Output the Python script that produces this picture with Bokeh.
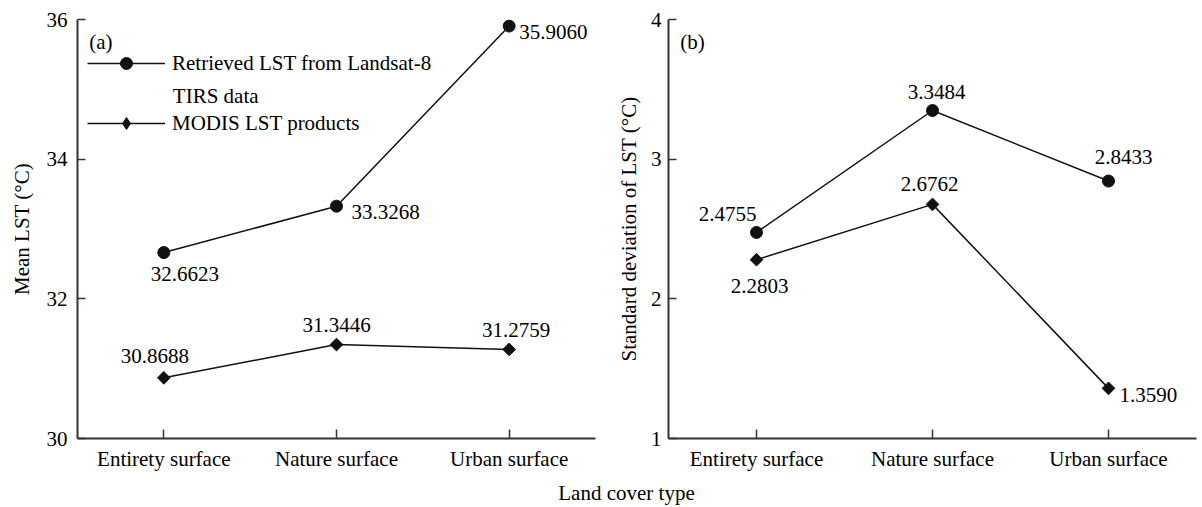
import numpy as np
from bokeh.plotting import figure
from bokeh.layouts import column, row
from bokeh.models import Range1d, FactorRange, FixedTicker, Legend, LegendItem, Label
from bokeh.embed import file_html
from bokeh.resources import INLINE
from bokeh.core.properties import value

# ---------------- data ----------------
categories = ["Entirety surface", "Nature surface", "Urban surface"]
mean_landsat = [32.6623, 33.3268, 35.9060]
mean_modis = [30.8688, 31.3446, 31.2759]
std_landsat = [2.4755, 3.3484, 2.8433]
std_modis = [2.2803, 2.6762, 1.3590]
mean_ticks = [30, 32, 34, 36]
std_ticks = [1, 2, 3, 4]
legend_landsat = "Retrieved LST from Landsat-8"
legend_landsat_2 = "TIRS data"
legend_modis = "MODIS LST products"
x_title = "Land cover type"
y_title_a = "Mean LST (°C)"
y_title_b = "Standard deviation of LST (°C)"

# ---------------- style ----------------
FONT = "Liberation Serif"
FS = "21px"
AXC = "#333333"
LC = "#111111"

# label offsets (dx, dy in screen px, align)
off_a_l = [(21, 21, "center"), (15, 6, "left"), (10, 6, "left")]
off_a_m = [(-9, -22, "center"), (0, -20, "center"), (7, -19, "center")]
off_b_l = [(-29, -18, "center"), (4, -19, "center"), (15, -24, "center")]
off_b_m = [(3, 26, "center"), (-3, -20, "center"), (11, 7, "left")]


def make_panel(width, border_left, border_right, yr, yticks, ytitle, ylab_standoff, ytick_standoff):
    p = figure(width=width, height=478, x_range=FactorRange(factors=categories),
               y_range=Range1d(*yr), output_backend="svg", toolbar_location=None,
               min_border_left=border_left, min_border_right=border_right,
               min_border_top=19, min_border_bottom=40)
    p.outline_line_color = None
    p.grid.visible = False
    p.background_fill_color = "white"
    p.border_fill_color = "white"
    p.yaxis.ticker = FixedTicker(ticks=yticks, minor_ticks=[])
    for ax in (p.xaxis[0], p.yaxis[0]):
        ax.axis_line_color = AXC
        ax.axis_line_width = 2
        ax.major_tick_line_color = AXC
        ax.major_tick_line_width = 1.5
        ax.major_tick_out = 0
        ax.minor_tick_out = 0
        ax.minor_tick_in = 0
        ax.major_label_text_font = FONT
        ax.major_label_text_font_size = FS
        ax.major_label_text_color = "black"
        ax.axis_label_text_font = FONT
        ax.axis_label_text_font_size = FS
        ax.axis_label_text_font_style = "normal"
        ax.axis_label_text_color = "black"
    p.xaxis.major_tick_in = 9
    p.yaxis.major_tick_in = 8
    p.xaxis.major_label_standoff = 8
    p.yaxis.major_label_standoff = ytick_standoff
    p.yaxis.axis_label = ytitle
    p.yaxis.axis_label_standoff = ylab_standoff
    return p


def draw_series(p, vals, diamond, offs):
    r_line = p.line(x=categories, y=vals, line_color=LC, line_width=1.5)
    if diamond:
        # plain diamond underneath (used by the legend, which ignores rotation),
        # covered by a rotated square giving the wider rhombus of the original
        r_leg = p.scatter(x=categories, y=vals, marker="diamond", size=10,
                          fill_color=LC, line_color=LC)
        p.scatter(x=categories, y=vals, marker="square", size=9, angle=np.pi / 4,
                  fill_color=LC, line_color=LC)
    else:
        r_leg = p.scatter(x=categories, y=vals, marker="circle", size=12,
                          fill_color=LC, line_color=LC)
    for c, v, (dx, dy, al) in zip(categories, vals, offs):
        p.text(x=[c], y=[v], text=["%.4f" % v], x_offset=dx, y_offset=dy,
               text_align=al, text_baseline="middle", text_font=value(FONT),
               text_font_size=FS, text_color="black")
    return [r_line, r_leg]


# ---------------- panel (a) ----------------
p1 = make_panel(612, 77, 17, (30, 36), mean_ticks, y_title_a, 10, 10)
a1 = draw_series(p1, mean_landsat, False, off_a_l)
a2 = draw_series(p1, mean_modis, True, off_a_m)
p1.text(x=[categories[0]], y=[mean_ticks[-1]], text=["(a)"], x_offset=-63, y_offset=22,
        text_align="center", text_baseline="middle", text_font=value(FONT),
        text_font_size=FS, text_color="black")
p1.text(x=[categories[0]], y=[mean_ticks[-1]], text=[legend_landsat_2], x_offset=9, y_offset=76,
        text_align="left", text_baseline="middle", text_font=value(FONT),
        text_font_size=FS, text_color="black")
leg = Legend(items=[LegendItem(label=legend_landsat, renderers=a1),
                    LegendItem(label=legend_modis, renderers=a2)],
             location=(10, 300), margin=0, padding=0, spacing=30,
             glyph_width=78, glyph_height=30, label_height=30, label_standoff=7,
             border_line_color=None, background_fill_alpha=0,
             label_text_font=FONT, label_text_font_size=FS, label_text_color="black")
p1.add_layout(leg)

# ---------------- panel (b) ----------------
p2 = make_panel(590, 56, 6, (1, 4), std_ticks, y_title_b, 7, 7)
draw_series(p2, std_landsat, False, off_b_l)
draw_series(p2, std_modis, True, off_b_m)
p2.text(x=[categories[0]], y=[std_ticks[-1]], text=["(b)"], x_offset=-64, y_offset=22,
        text_align="center", text_baseline="middle", text_font=value(FONT),
        text_font_size=FS, text_color="black")

# ---------------- shared x title ----------------
p3 = figure(width=1202, height=29, x_range=Range1d(0, 1202), y_range=Range1d(0, 29),
            output_backend="svg", toolbar_location=None, min_border=0,
            x_axis_type=None, y_axis_type=None)
p3.outline_line_color = None
p3.grid.visible = False
p3.add_layout(Label(x=626, y=15, text=x_title, text_align="center", text_baseline="middle",
                    text_font=FONT, text_font_size=FS, text_color="black"))

layout = column(row(p1, p2, spacing=0), p3, spacing=0)
open("out.html", "w").write(file_html(layout, INLINE))
